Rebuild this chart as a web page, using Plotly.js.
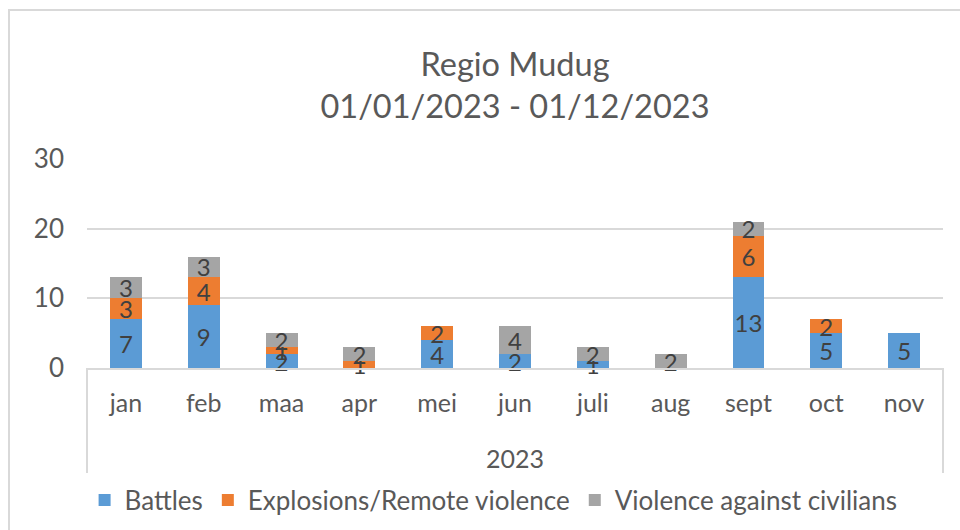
<!DOCTYPE html>
<html>
<head>
<meta charset="utf-8">
<script src="https://cdn.plot.ly/plotly-3.0.1.min.js"></script>
<style>
  html, body { margin: 0; padding: 0; background: #ffffff; overflow: hidden; }
  #chart { width: 960px; height: 530px; }
  #frame { position: absolute; left: 8px; top: 9px; width: 1100px; height: 700px;
           border-top: 2px solid #d9d9d9; border-left: 2px solid #d9d9d9; pointer-events: none; }
</style>
</head>
<body>
<div id="chart"></div>
<div id="frame"></div>
<script>
const year = '2023';
const months = ['jan', 'feb', 'maa', 'apr', 'mei', 'jun', 'juli', 'aug', 'sept', 'oct', 'nov'];
const battles = [7, 9, 2, 0, 4, 2, 1, 0, 13, 5, 5];
const explosions = [3, 4, 1, 1, 2, 0, 0, 0, 6, 2, 0];
const civilians = [3, 3, 2, 2, 0, 4, 2, 2, 2, 0, 0];
const yTicks = [0, 10, 20, 30];

const FONT = 'Lato, "Open Sans", sans-serif';
const TXT = '#595959';
const PLOT_H = 209; // plot area height in px (for paper-coordinate placement)

function series(name, vals, color) {
  return {
    type: 'bar',
    name: name,
    x: months,
    y: vals,
    text: vals.map(v => (v ? String(v) : '')),
    textposition: 'inside',
    insidetextanchor: 'middle',
    textangle: 0,
    insidetextfont: { family: FONT, size: 24, color: '#404040' },
    marker: { color: color, line: { width: 0 } },
    cliponaxis: false,
    hoverinfo: 'skip'
  };
}

const data = [
  series('Battles', battles, '#5B9BD5'),
  series('Explosions/Remote violence', explosions, '#ED7D31'),
  series('Violence against civilians', civilians, '#A5A5A5')
];

const dividerBottom = -105 / PLOT_H;
const layout = {
  width: 960,
  height: 530,
  margin: { l: 87, r: 17, t: 159, b: 162 },
  paper_bgcolor: '#ffffff',
  plot_bgcolor: '#ffffff',
  barmode: 'stack',
  bargap: 0.59,
  font: { family: FONT, color: TXT },
  uniformtext: { mode: 'show', minsize: 24 },
  title: {
    text: 'Regio Mudug<br>01/01/2023 - 01/12/2023',
    font: { family: FONT, size: 32.5, color: TXT },
    x: 0.5, xref: 'paper', xanchor: 'center',
    y: 0.857, yref: 'container', yanchor: 'middle'
  },
  xaxis: {
    type: 'category',
    showline: true,
    linecolor: '#d9d9d9',
    linewidth: 2,
    showgrid: false,
    ticks: '',
    ticklabelstandoff: 12,
    tickfont: { family: FONT, size: 25, color: TXT },
    automargin: false,
    fixedrange: true
  },
  yaxis: {
    range: [0, 30],
    tickvals: yTicks,
    ticktext: yTicks.map(String),
    showgrid: true,
    gridcolor: '#d9d9d9',
    gridwidth: 2,
    zeroline: false,
    showline: false,
    ticks: '',
    ticklabelstandoff: 22,
    tickfont: { family: FONT, size: 26, color: TXT },
    automargin: false,
    fixedrange: true
  },
  shapes: [0, 1].map(px => ({
    type: 'line', xref: 'paper', yref: 'paper',
    x0: px, x1: px, y0: 0, y1: dividerBottom,
    line: { color: '#d9d9d9', width: 2 }
  })),
  annotations: [{
    text: year,
    xref: 'paper', yref: 'paper',
    x: 0.5, y: -90 / PLOT_H,
    xanchor: 'center', yanchor: 'middle',
    showarrow: false,
    font: { family: FONT, size: 25, color: TXT }
  }],
  showlegend: true,
  legend: {
    orientation: 'h',
    x: 0.475, xanchor: 'center',
    y: 1 - 500 / 530, yref: 'container', yanchor: 'middle',
    font: { family: FONT, size: 26, color: TXT },
    traceorder: 'normal',
    itemclick: false
  }
};

Plotly.newPlot('chart', data, layout, { displayModeBar: false, staticPlot: true });
</script>
</body>
</html>
